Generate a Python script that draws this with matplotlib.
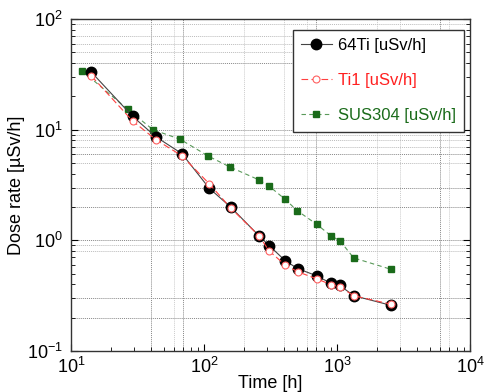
import matplotlib
matplotlib.use("Agg")
import matplotlib.pyplot as plt
from matplotlib.ticker import LogLocator, NullFormatter

plt.rcParams['font.family'] = ['Liberation Sans', 'DejaVu Sans']
plt.rcParams['mathtext.fontset'] = 'custom'
plt.rcParams['mathtext.rm'] = 'Liberation Sans'
plt.rcParams['mathtext.it'] = 'Liberation Sans'

# data
time_h = [14.3, 29.1, 43.7, 68.4, 109.6, 159.6, 260, 310, 408, 507, 708, 901, 1047, 1336, 2535]
ti64 = [33.0, 13.2, 8.6, 6.07, 2.96, 1.99, 1.097, 0.895, 0.656, 0.555, 0.477, 0.409, 0.393, 0.316, 0.259]
ti1 = [30.5, 12.0, 8.1, 5.8, 3.25, 1.95, 1.097, 0.80, 0.60, 0.52, 0.448, 0.398, 0.382, 0.316, 0.265]
time_sus = [12.2, 26.7, 41.4, 66.4, 107.7, 156.7, 259, 308, 408, 504, 708, 901, 1054, 1336, 2535]
sus304 = [33.9, 15.3, 10.0, 8.18, 5.78, 4.60, 3.52, 3.10, 2.35, 1.85, 1.39, 1.10, 0.99, 0.694, 0.548]

labels = ['64Ti [uSv/h]', 'Ti1 [uSv/h]', 'SUS304 [uSv/h]']
colors = ['black', '#ff2020', '#1a6b1a']

# grid positions (visible in reference)
vgrid_dark = [40, 70, 700, 6000]
vgrid_light = [60, 200, 400, 600, 2000, 3000, 7000]
hgrid_dark = [0.2, 0.3, 1, 2, 3, 6, 10, 40]
hgrid_light = [0.8, 0.9, 5, 7, 8, 9, 50, 60, 70, 90]

fig = plt.figure(figsize=(4.85, 3.92), dpi=100)
ax = fig.add_axes([0.146, 0.1046, 0.823, 0.847])
ax.set_xscale('log')
ax.set_yscale('log')
ax.set_xlim(10, 1e4)
ax.set_ylim(0.1, 100)

for v in vgrid_dark:
    ax.axvline(v, color='#888888', lw=0.7, ls=(0, (1, 1)), zorder=0)
for v in vgrid_light:
    ax.axvline(v, color='#cccccc', lw=0.7, ls=(0, (1, 1)), zorder=0)
for h in hgrid_dark:
    ax.axhline(h, color='#888888', lw=0.7, ls=(0, (1, 1)), zorder=0)
for h in hgrid_light:
    ax.axhline(h, color='#bbbbbb', lw=0.7, ls=(0, (1, 1)), zorder=0)

ax.plot(time_sus, sus304, color='#5a9a5a', lw=0.8, ls=(0, (4, 3)),
        marker='s', ms=4.5, mfc=colors[2], mec=colors[2], label=labels[2], zorder=3)
ax.plot(time_h, ti64, color='#444444', lw=0.8, ls='-',
        marker='o', ms=7.5, mfc='black', mec='black', label=labels[0], zorder=4)
ax.plot(time_h, ti1, color='#ff4040', lw=0.8, ls=(0, (6, 3)),
        marker='o', ms=5, mfc='white', mec='#ff6060', mew=0.8, label=labels[1], zorder=5)

ax.tick_params(which='both', direction='in', right=True, top=False, labelsize=13)
ax.tick_params(axis='x', pad=4)
ax.tick_params(axis='y', pad=6)
ax.tick_params(which='major', length=5)
ax.tick_params(which='minor', length=3)
ax.xaxis.set_minor_locator(LogLocator(base=10, subs=range(2, 10), numticks=20))
ax.yaxis.set_minor_locator(LogLocator(base=10, subs=range(2, 10), numticks=20))
ax.xaxis.set_minor_formatter(NullFormatter())
ax.yaxis.set_minor_formatter(NullFormatter())
for s in ax.spines.values():
    s.set_linewidth(1.0)
    s.set_color('#333333')

ax.set_xlabel('Time [h]', fontsize=13, labelpad=-1)
ax.set_ylabel('Dose rate [\u00b5Sv/h]', fontsize=13, labelpad=1)

handles, labs = ax.get_legend_handles_labels()
order = [1, 2, 0]
leg = ax.legend([handles[i] for i in order], [labs[i] for i in order],
                loc='upper left', bbox_to_anchor=(0.556, 0.967), fontsize=12,
                frameon=True, fancybox=False, framealpha=1, edgecolor='#333333',
                labelspacing=1.2, handlelength=1.85, handletextpad=0.36,
                borderpad=0.5, borderaxespad=0)
leg.get_frame().set_linewidth(1.0)
for t, c in zip(leg.get_texts(), colors):
    t.set_color(c)

fig.savefig('out.png', dpi=100)
